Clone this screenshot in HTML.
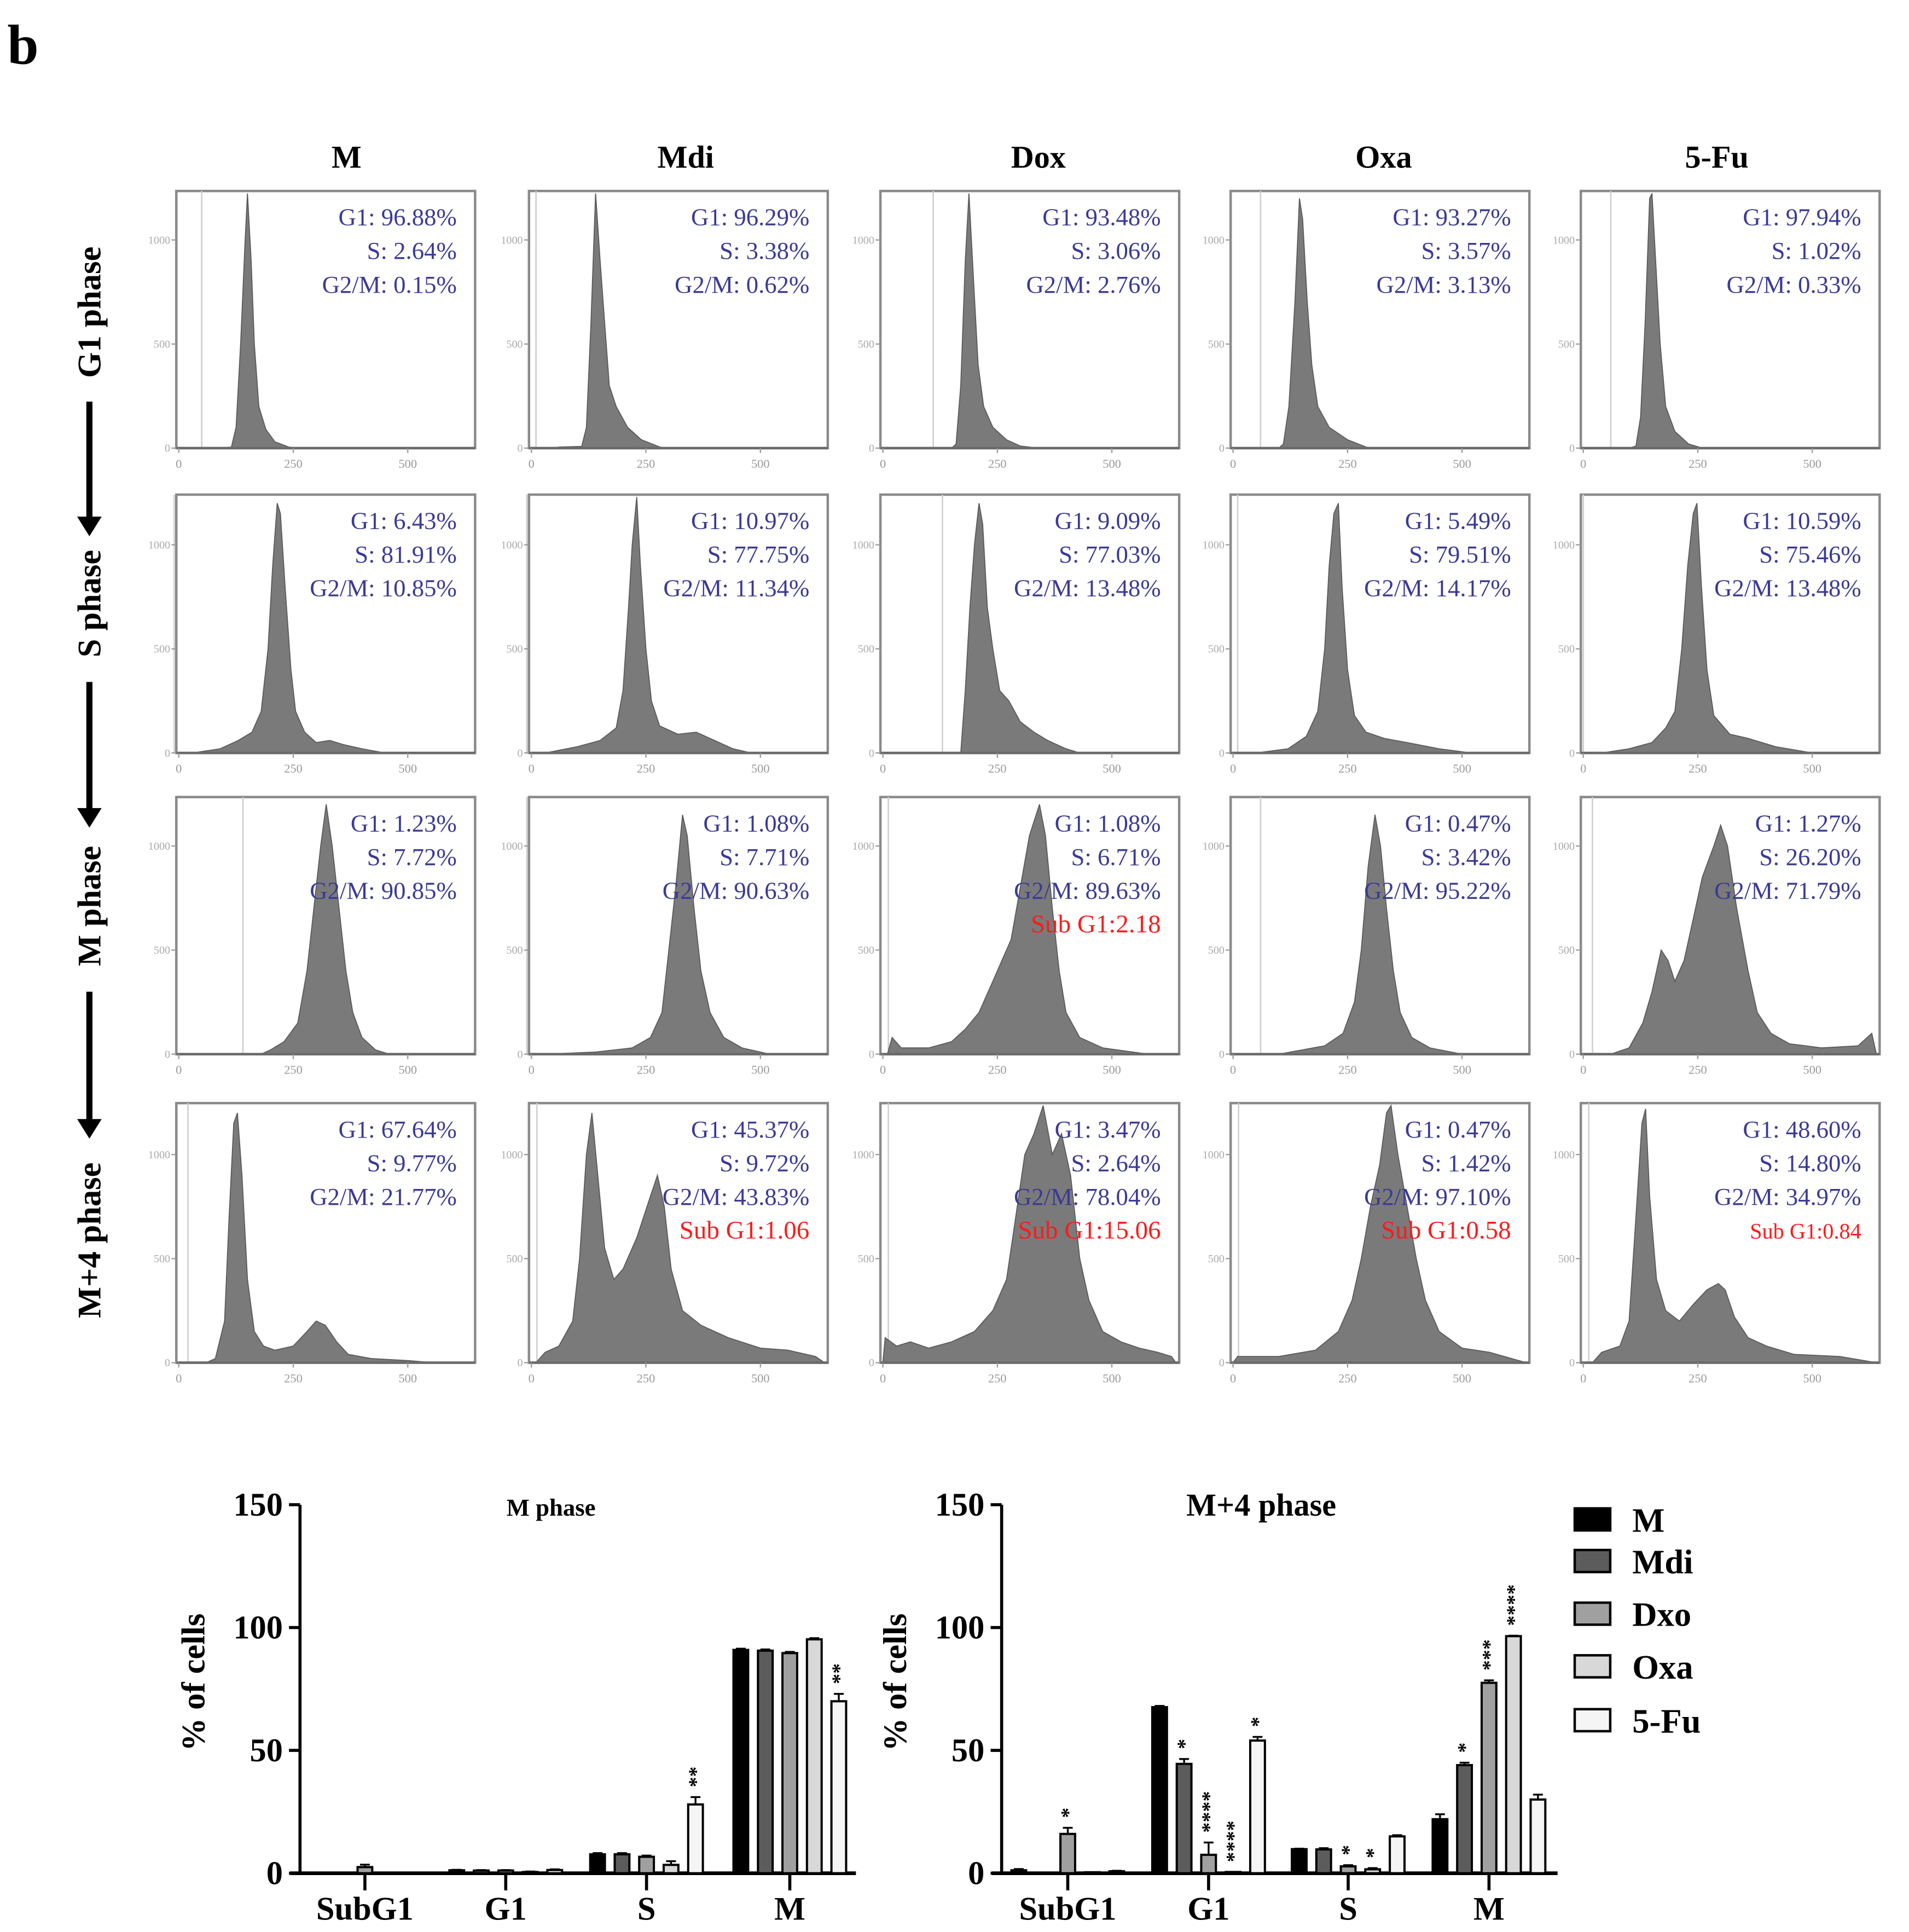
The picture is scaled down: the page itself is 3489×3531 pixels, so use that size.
<!DOCTYPE html>
<html><head><meta charset="utf-8">
<style>
html,body{margin:0;padding:0;background:#fff;}
svg{display:block;}
text{font-family:"Liberation Serif",serif;}
</style></head>
<body>
<svg id="fig" width="3489" height="3531" viewBox="0 0 1559 1578" preserveAspectRatio="none" xmlns="http://www.w3.org/2000/svg">
<rect x="0" y="0" width="1559" height="1578" fill="#fff"/>
<text x="6" y="52" font-size="46" font-weight="bold">b</text>
<g id="hist"></g>
<g id="bars"></g>
</svg>
<script>
// ---------- histogram data ----------
const colNames = ["M","Mdi","Dox","Oxa","5-Fu"];
const rowNames = ["G1 phase","S phase","M phase","M+4 phase"];
const histPoints = [
 [ [[90,0],[115,5],[125,100],[135,500],[145,1000],[150,1240],[158,900],[165,500],[175,200],[190,90],[210,30],[240,5],[260,0]],
   [[50,0],[60,5],[110,8],[120,100],[130,600],[140,1240],[150,900],[160,600],[170,300],[185,200],[210,100],[240,40],[280,5],[300,0]],
   [[150,0],[160,20],[170,300],[180,900],[188,1240],[198,800],[208,400],[220,200],[240,100],[270,40],[300,10],[340,0]],
   [[100,0],[110,20],[122,200],[135,700],[145,1200],[152,1100],[162,700],[172,400],[185,200],[210,100],[250,40],[290,5],[310,0]],
   [[100,0],[115,10],[125,150],[135,600],[145,1200],[150,1240],[158,900],[168,500],[180,200],[200,80],[230,20],[260,0]] ],
 [ [[30,0],[90,20],[130,60],[160,100],[180,200],[195,500],[205,900],[215,1200],[222,1150],[232,800],[245,400],[255,200],[275,100],[300,50],[330,60],[360,40],[400,20],[450,0]],
   [[30,0],[100,30],[150,60],[185,120],[200,300],[212,700],[220,1000],[230,1240],[238,900],[250,500],[262,250],[280,130],[320,90],[360,100],[400,60],[440,20],[480,0]],
   [[170,0],[180,300],[190,700],[200,1000],[210,1200],[218,1100],[228,700],[240,500],[255,300],[275,250],[300,150],[330,100],[360,60],[400,20],[430,0]],
   [[50,0],[120,20],[160,80],[185,200],[200,500],[210,900],[220,1150],[230,1200],[238,800],[250,400],[265,180],[290,100],[330,70],[380,50],[450,20],[520,0]],
   [[40,0],[100,20],[150,50],[180,120],[200,200],[215,500],[228,900],[240,1150],[248,1200],[258,800],[270,400],[285,180],[320,90],[360,70],[420,30],[500,0]] ],
 [ [[180,0],[200,20],[230,60],[260,150],[280,400],[295,700],[310,1000],[322,1200],[335,1000],[350,700],[365,400],[380,200],[400,80],[430,20],[460,0]],
   [[30,0],[140,10],[220,30],[260,80],[285,200],[300,500],[315,800],[330,1150],[340,1050],[355,700],[370,400],[390,200],[420,80],[460,30],[520,0]],
   [[10,0],[20,80],[40,30],[100,30],[150,60],[180,120],[210,200],[240,350],[260,450],[280,550],[300,800],[320,1050],[342,1200],[355,1050],[370,700],[385,400],[400,200],[430,80],[480,30],[580,0]],
   [[100,0],[150,20],[200,40],[240,100],[265,250],[280,500],[295,900],[310,1150],[322,1000],[335,700],[350,400],[365,200],[390,80],[430,30],[500,0]],
   [[60,0],[100,30],[130,150],[150,300],[170,500],[185,450],[200,350],[220,450],[240,650],[260,850],[285,1000],[300,1100],[315,1000],[335,700],[360,400],[380,200],[410,100],[450,50],[520,30],[600,40],[630,100],[640,0]] ],
 [ [[60,0],[80,20],[100,200],[110,700],[120,1150],[128,1200],[138,900],[150,400],[165,150],[185,80],[210,60],[250,80],[280,150],[300,200],[320,180],[345,100],[370,40],[420,20],[500,10],[560,0]],
   [[10,0],[30,50],[60,80],[90,200],[105,500],[120,1000],[132,1200],[145,900],[160,550],[180,400],[200,450],[230,600],[260,800],[275,900],[290,750],[305,450],[330,250],[370,180],[430,120],[500,70],[560,60],[620,30],[640,0]],
   [[0,0],[5,120],[30,80],[60,100],[100,70],[150,100],[200,150],[240,250],[270,400],[290,700],[310,1000],[330,1100],[350,1240],[370,1000],[390,1100],[410,900],[430,500],[450,300],[480,150],[520,100],[560,70],[600,50],[630,30],[640,0]],
   [[0,0],[10,30],[100,30],[180,60],[230,150],[260,300],[280,500],[300,750],[320,950],[335,1200],[345,1240],[360,1000],[380,750],[400,500],[420,300],[450,150],[500,70],[560,50],[640,0]],
   [[20,0],[40,50],[80,80],[100,200],[115,700],[128,1150],[136,1220],[145,800],[160,400],[180,250],[210,200],[240,280],[270,350],[295,380],[310,350],[330,220],[360,120],[400,80],[460,40],[560,30],[640,0]] ]
];
const panelLabels = [
 [["G1: 96.88%","S: 2.64%","G2/M: 0.15%"],["G1: 96.29%","S: 3.38%","G2/M: 0.62%"],["G1: 93.48%","S: 3.06%","G2/M: 2.76%"],["G1: 93.27%","S: 3.57%","G2/M: 3.13%"],["G1: 97.94%","S: 1.02%","G2/M: 0.33%"]],
 [["G1: 6.43%","S: 81.91%","G2/M: 10.85%"],["G1: 10.97%","S: 77.75%","G2/M: 11.34%"],["G1: 9.09%","S: 77.03%","G2/M: 13.48%"],["G1: 5.49%","S: 79.51%","G2/M: 14.17%"],["G1: 10.59%","S: 75.46%","G2/M: 13.48%"]],
 [["G1: 1.23%","S: 7.72%","G2/M: 90.85%"],["G1: 1.08%","S: 7.71%","G2/M: 90.63%"],["G1: 1.08%","S: 6.71%","G2/M: 89.63%","Sub G1:2.18"],["G1: 0.47%","S: 3.42%","G2/M: 95.22%"],["G1: 1.27%","S: 26.20%","G2/M: 71.79%"]],
 [["G1: 67.64%","S: 9.77%","G2/M: 21.77%"],["G1: 45.37%","S: 9.72%","G2/M: 43.83%","Sub G1:1.06"],["G1: 3.47%","S: 2.64%","G2/M: 78.04%","Sub G1:15.06"],["G1: 0.47%","S: 1.42%","G2/M: 97.10%","Sub G1:0.58"],["G1: 48.60%","S: 14.80%","G2/M: 34.97%","Sub G1:0.84"]]
];
const xTicks = [0,250,500];
const yTicks = [0,500,1000];

// ---------- bar chart data ----------
const categories = ["SubG1","G1","S","M"];
const seriesNames = ["M","Mdi","Dxo","Oxa","5-Fu"];
const mPhaseValues = [[0,0,2.5,0,0],[1.2,1.1,1.1,0.5,1.3],[7.7,7.7,6.7,3.4,28],[90.9,90.6,89.6,95.2,70]];
const mPhaseErr = [[0,0,1,0,0],[0.2,0.2,0.2,0.2,0.3],[0.5,0.5,0.5,1.5,3],[0.5,0.5,0.5,0.5,3]];
const mPhaseStars = [["","","","",""],["","","","",""],["","","","","**"],["","","","","**"]];
const m4Values = [[1.2,0,16,0.4,0.8],[67.6,44.5,7.5,0.5,54],[9.8,9.7,2.8,1.6,15],[22,44,77.5,96.5,30]];
const m4Err = [[0.5,0,2.5,0,0.2],[0.5,2,5,0,1.5],[0.2,0.5,0.5,0.5,0.5],[2,1,1,0.2,2]];
const m4Stars = [["","","*","",""],["","*","****","****","*"],["","","*","*",""],["","*","***","****",""]];
const yBarTicks = [0,50,100,150];
const barColors = ["#000000","#5c5c5c","#a0a0a0","#d8d8d8","#f5f5f5"];

const NS = "http://www.w3.org/2000/svg";
function mk(tag, attrs, parent){
  const e = document.createElementNS(NS, tag);
  for (const k in attrs) e.setAttribute(k, attrs[k]);
  parent.appendChild(e);
  return e;
}

// ---------- histograms ----------
const hist = document.getElementById("hist");
const colX = [144,432,719,1005,1291];
const rowTop = [156,404,651,901];
const rowBase = [366,615,861,1113];
const colCenters = [283,560,848,1130,1402];
const PW = 244;
colNames.forEach((n,c)=>{
  const t = mk("text",{x:colCenters[c],y:137,"font-size":26,"font-weight":"bold","text-anchor":"middle"},hist);
  t.textContent = n;
  
  
});
const rowLabelY = [255,493,740,1013];
rowNames.forEach((n,r)=>{
  const t = mk("text",{x:0,y:0,"font-size":27,"font-weight":"bold","text-anchor":"middle",transform:"translate(82,"+rowLabelY[r]+") rotate(-90)"},hist);
  t.textContent = n;
  
  
});
const arrows = [[328,438],[557,676],[810,930]];
arrows.forEach((a,i)=>{
  const g = mk("g",{},hist);
  
  
  mk("line",{x1:73,y1:a[0],x2:73,y2:a[1]-14,stroke:"#000","stroke-width":5},g);
  mk("polygon",{points:"63,"+(a[1]-16)+" 83,"+(a[1]-16)+" 73,"+a[1],fill:"#000"},g);
});
for (let r=0;r<4;r++){
  for (let c=0;c<5;c++){
    const L = colX[c], T = rowTop[r], B = rowBase[r];
    const g = mk("g",{},hist);
    
    
    const xs = v => L + 2 + v*0.374;
    const ys = v => Math.max(T+2, B - v*0.17);
    mk("rect",{x:L,y:T,width:PW,height:B-T,fill:"#fff",stroke:"#8a8a8a","stroke-width":2},g);
    const gx = xs(histPoints[r][c][0][0]-20>0?histPoints[r][c][0][0]-40:12);
    mk("line",{x1:gx,y1:T,x2:gx,y2:B,stroke:"#d0d0d0","stroke-width":1.2},g);
    const pts = histPoints[r][c].map(p=>xs(p[0]).toFixed(1)+","+ys(p[1]).toFixed(1)).join(" ");
    const poly = mk("polygon",{points:pts,fill:"#7a7a7a",stroke:"#5a5a5a","stroke-width":0.8},g);
    
    
    mk("line",{x1:L,y1:B,x2:L+PW,y2:B,stroke:"#6a6a6a","stroke-width":2},g);
    xTicks.forEach(v=>{
      mk("line",{x1:xs(v),y1:B,x2:xs(v),y2:B+4,stroke:"#999","stroke-width":1},g);
      const t = mk("text",{x:xs(v),y:B+16,"font-size":10,fill:"#999","text-anchor":"middle"},g);
      t.textContent = v;
      
      
    });
    yTicks.forEach(v=>{
      const y = B - v*0.17;
      mk("line",{x1:L-4,y1:y,x2:L,y2:y,stroke:"#999","stroke-width":1},g);
      const t = mk("text",{x:L-5,y:y+3,"font-size":9,fill:"#aaa","text-anchor":"end"},g);
      t.textContent = v;
      
      
    });
    panelLabels[r][c].forEach((s,i)=>{
      const red = i===3;
      const t = mk("text",{x:L+229,y:T+28+i*27.5,"font-size":red?(r===3&&c===4?18:21):20,fill:red?"#ff1a1a":"#3a3a96","text-anchor":"end"},g);
      t.textContent = s;
      
      
    });
  }
}

// ---------- bar charts ----------
const bars = document.getElementById("bars");
function barChart(axX, endX, groupX, values, errs, stars, title, titleX, titleSize, name){
  const base = 1530, top = 1229;
  const ys = v => base - v*(base-top)/150;
  const g = mk("g",{},bars);
  
  
  mk("line",{x1:axX,y1:top,x2:axX,y2:base,stroke:"#000","stroke-width":2.5},g);
  mk("line",{x1:axX-8,y1:base,x2:endX,y2:base,stroke:"#000","stroke-width":3},g);
  yBarTicks.forEach(v=>{
    mk("line",{x1:axX-9,y1:ys(v),x2:axX,y2:ys(v),stroke:"#000","stroke-width":2.5},g);
    const t = mk("text",{x:axX-14,y:ys(v)+9,"font-size":27,"font-weight":"bold","text-anchor":"end"},g);
    t.textContent = v;
    
    
  });
  const yt = mk("text",{x:0,y:0,"font-size":27,"font-weight":"bold","text-anchor":"middle",transform:"translate("+(axX-78)+",1374) rotate(-90)"},g);
  yt.textContent = "% of cells";
  
  
  const tt = mk("text",{x:titleX,y:1238,"font-size":titleSize,"font-weight":"bold","text-anchor":"middle"},g);
  tt.textContent = title;
  
  
  categories.forEach((cat,ci)=>{
    const cx = groupX[ci];
    mk("line",{x1:cx,y1:base,x2:cx,y2:base+14,stroke:"#000","stroke-width":2.5},g);
    const t = mk("text",{x:cx,y:1568,"font-size":27,"font-weight":"bold","text-anchor":"middle"},g);
    t.textContent = cat;
    
    
    values[ci].forEach((v,si)=>{
      const bx = cx + (si-2)*20 - 6;
      const e = errs[ci][si];
      if (e>0){
        mk("line",{x1:bx+6,y1:ys(v),x2:bx+6,y2:ys(v+e),stroke:"#000","stroke-width":1.5},g);
        mk("line",{x1:bx+2,y1:ys(v+e),x2:bx+10,y2:ys(v+e),stroke:"#000","stroke-width":1.5},g);
      }
      const rect = mk("rect",{x:bx,y:ys(v),width:12,height:Math.max(base-ys(v),0.5),fill:barColors[si],stroke:"#000","stroke-width":1.8},g);
      
      
      const s = stars[ci][si];
      if (s){
        const sy = ys(v+e) - 8;
        const st = mk("text",{x:0,y:0,"font-size":17,"font-weight":"bold","text-anchor":"start",transform:"translate("+(bx+12)+","+sy+") rotate(-90)"},g);
        st.textContent = s;
        
        
      }
    });
  });
}
barChart(245, 699, [298,413,528,645], mPhaseValues, mPhaseErr, mPhaseStars, "M phase", 450, 20, "m-phase-bar-chart");
barChart(818, 1272, [872,987,1101,1216], m4Values, m4Err, m4Stars, "M+4 phase", 1030, 26, "m4-phase-bar-chart");

// legend
const lg = mk("g",{},bars);


const legY = [1241,1275,1318,1361,1405];
seriesNames.forEach((n,i)=>{
  const e = mk("g",{},lg);
  
  
  mk("rect",{x:1286,y:legY[i]-9,width:29,height:18,fill:barColors[i],stroke:"#000","stroke-width":2},e);
  const t = mk("text",{x:1333,y:legY[i]+10,"font-size":28,"font-weight":"bold"},e);
  t.textContent = n;
});
</script>
</body></html>
